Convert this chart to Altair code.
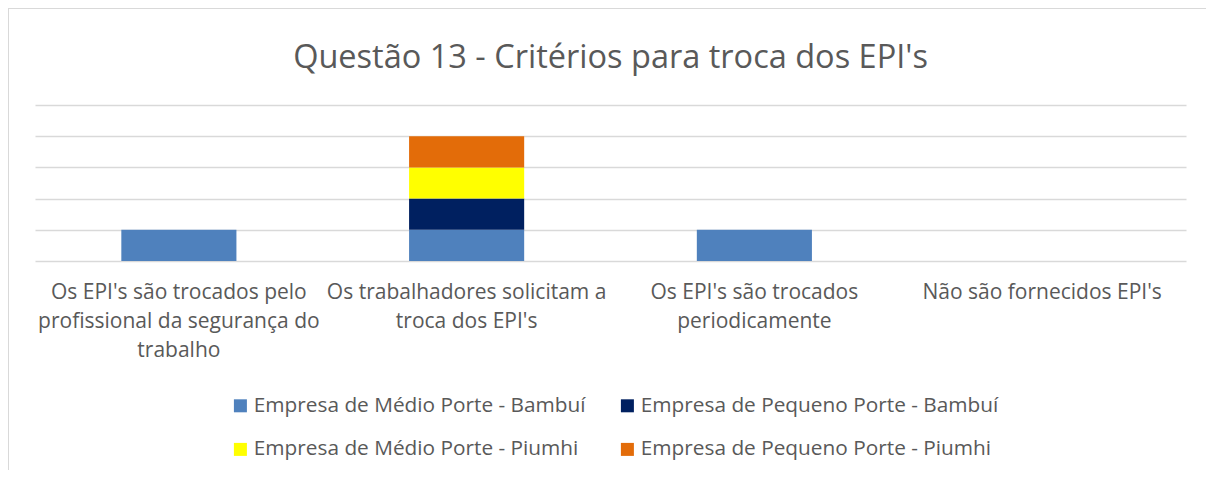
import altair as alt
import pandas as pd

categories = [
    "Os EPI's são trocados pelo profissional da segurança do trabalho",
    "Os trabalhadores solicitam a troca dos EPI's",
    "Os EPI's são trocados periodicamente",
    "Não são fornecidos EPI's",
]
label_lines = [
    ["Os EPI's são trocados pelo", "profissional da segurança do", "trabalho"],
    ["Os trabalhadores solicitam a", "troca dos EPI's"],
    ["Os EPI's são trocados", "periodicamente"],
    ["Não são fornecidos EPI's"],
]
series = [
    "Empresa de Médio Porte - Bambuí",
    "Empresa de Pequeno Porte - Bambuí",
    "Empresa de Médio Porte - Piumhi",
    "Empresa de Pequeno Porte - Piumhi",
]
colors = ["#4F81BD", "#002060", "#FFFF00", "#E36C09"]

medio_bambui = [1, 1, 1, 0]
pequeno_bambui = [0, 1, 0, 0]
medio_piumhi = [0, 1, 0, 0]
pequeno_piumhi = [0, 1, 0, 0]

values = [medio_bambui, pequeno_bambui, medio_piumhi, pequeno_piumhi]
rows = []
for si, (s, vals) in enumerate(zip(series, values)):
    for c, v in zip(categories, vals):
        rows.append({"categoria": c, "serie": s, "ordem": si, "valor": v})
df = pd.DataFrame(rows)

# label expression: map each category to multi-line label
parts = []
for c, lines in zip(categories, label_lines):
    arr = "[" + ",".join("'" + l.replace("'", "\\'") + "'" for l in lines) + "]"
    parts.append("datum.value === '" + c.replace("'", "\\'") + "' ? " + arr)
label_expr = " : ".join(parts) + " : datum.label"

W, H = 1151, 156
TEXT = "#595959"
FONT = "Open Sans"

bars = alt.Chart(df).mark_bar().encode(
    x=alt.X(
        "categoria:N",
        sort=categories,
        title=None,
        scale=alt.Scale(paddingInner=0.6, paddingOuter=0.3),
        axis=alt.Axis(
            labelExpr=label_expr,
            labelAngle=0,
            labelFontSize=21,
            labelFont=FONT,
            labelColor=TEXT,
            labelLineHeight=29,
            labelPadding=20,
            labelBaseline="top",
            ticks=False,
            domain=False,
            labelLimit=400,
        ),
    ),
    y=alt.Y(
        "valor:Q",
        stack="zero",
        title=None,
        scale=alt.Scale(domain=[0, 5], nice=False),
        axis=alt.Axis(
            values=[0, 1, 2, 3, 4, 5],
            labels=False,
            ticks=False,
            domain=False,
            grid=True,
            gridColor="#D9D9D9",
            gridWidth=1.3,
        ),
    ),
    color=alt.Color(
        "serie:N",
        sort=series,
        scale=alt.Scale(domain=series, range=colors),
        legend=alt.Legend(
            title=None,
            orient="none",
            legendX=195,
            legendY=290,
            columns=2,
            direction="horizontal",
            symbolType="square",
            symbolSize=169,
            symbolStrokeWidth=0,
            labelFont=FONT,
            labelFontSize=20.8,
            labelColor=TEXT,
            labelOffset=3,
            rowPadding=22,
            columnPadding=31,
            labelLimit=500,
            padding=0,
        ),
    ),
    order=alt.Order("ordem:Q"),
)

border = alt.Chart(pd.DataFrame({"a": [0]})).mark_rule(color="#D9D9D9", strokeWidth=1).encode(
    x=alt.value(-26.5), y=alt.value(-97), y2=alt.value(400)
)
border_top = alt.Chart(pd.DataFrame({"a": [0]})).mark_rule(color="#D9D9D9", strokeWidth=1).encode(
    x=alt.value(-27), x2=alt.value(1200), y=alt.value(-96.5)
)

chart = alt.layer(bars, border, border_top).properties(
    width=W,
    height=H,
    padding={"left": 27, "top": 97, "right": 20, "bottom": 209},
    autosize=alt.AutoSizeParams(type="none"),
    background="white",
    title=alt.TitleParams(
        "Questão 13 - Critérios para troca dos EPI's",
        font=FONT,
        fontSize=32.5,
        fontWeight="normal",
        color=TEXT,
        anchor="middle",
        frame="group",
        offset=0,
        dy=93,
        baseline="alphabetic",
    ),
).configure_view(strokeWidth=0, stroke="transparent")

chart.save("out.html", embed_options={"renderer": "svg", "actions": False})
